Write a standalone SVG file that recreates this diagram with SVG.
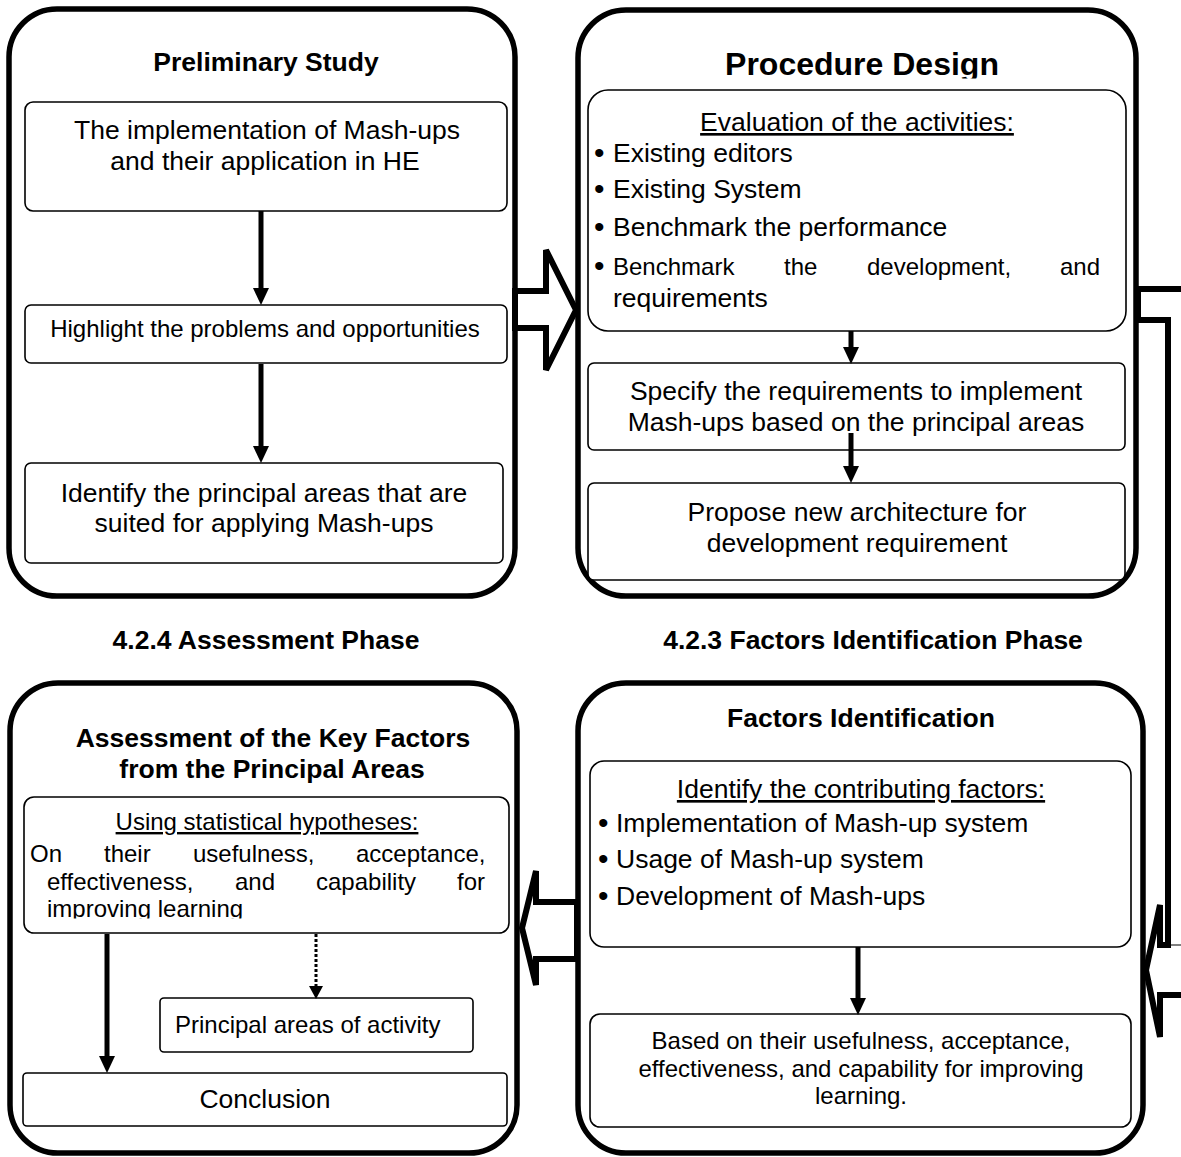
<svg xmlns="http://www.w3.org/2000/svg" width="1181" height="1157" viewBox="0 0 1181 1157">
<style>
.panel{fill:#fff;stroke:#000;stroke-width:5.5}
.box{fill:#fff;stroke:#000;stroke-width:1.6}
text{font-family:"Liberation Sans",Arial,sans-serif;fill:#000}
.f26{font-size:26.5px}
.f24{font-size:24px}
.h{font-size:26.5px;font-weight:bold}
.c{text-anchor:middle}
.u{text-decoration:underline}
.bul{font-size:30px}
.conn{stroke:#000;stroke-width:5;fill:none}
.dot{stroke:#000;stroke-width:3;fill:none;stroke-dasharray:3 2}
.hollow{fill:#fff;stroke:#000;stroke-width:6;stroke-linejoin:miter}
</style>
<defs>
<marker id="ah" markerUnits="userSpaceOnUse" viewBox="0 0 17 16" markerWidth="17" markerHeight="16" refX="0" refY="8" orient="auto"><path d="M0,0 L17,8 L0,16 z" fill="#000"/></marker>
<marker id="ahs" markerUnits="userSpaceOnUse" viewBox="0 0 13 14" markerWidth="13" markerHeight="14" refX="0" refY="7" orient="auto"><path d="M0,0 L13,7 L0,14 z" fill="#000"/></marker>
<clipPath id="clipTitle"><rect x="578" y="0" width="560" height="78.5"/></clipPath>
<clipPath id="clipUsing"><rect x="24" y="797" width="486" height="121.5"/></clipPath>
</defs>

<!-- Top-left panel -->
<g id="panel-preliminary">
<rect class="panel" x="9" y="9" width="506" height="587" rx="48"/>
<text class="h c" x="266" y="71">Preliminary Study</text>
</g>
<g id="node-implementation">
<rect class="box" x="25" y="102" width="482" height="109" rx="8"/>
<text class="f26 c" x="267" y="139">The implementation of Mash-ups</text>
<text class="f26 c" x="265" y="170">and their application in HE</text>
</g>
<g id="node-highlight">
<rect class="box" x="25" y="305" width="482" height="58" rx="6"/>
<text class="f24 c" x="265" y="337">Highlight the problems and opportunities</text>
</g>
<g id="node-identify-areas">
<rect class="box" x="25" y="463" width="478" height="100" rx="6"/>
<text class="f26 c" x="264" y="502">Identify the principal areas that are</text>
<text class="f26 c" x="264" y="532">suited for applying Mash-ups</text>
</g>

<!-- Top-right panel -->
<g id="panel-procedure">
<rect class="panel" x="578" y="10" width="558" height="586" rx="48"/>
<text x="862" y="75" class="c" font-size="32" font-weight="bold" clip-path="url(#clipTitle)">Procedure Design</text>
</g>
<g id="node-evaluation">
<rect class="box" x="588" y="90" width="538" height="241" rx="20"/>
<text class="f26 c u" x="857" y="131">Evaluation of the activities:</text>
<text class="f26" x="594" y="163"><tspan class="bul">•</tspan><tspan x="613" y="162">Existing editors</tspan></text>
<text class="f26" x="594" y="199"><tspan class="bul">•</tspan><tspan x="613" y="198">Existing System</tspan></text>
<text class="f26" x="594" y="237"><tspan class="bul">•</tspan><tspan x="613" y="236">Benchmark the performance</tspan></text>
<text class="f24" x="594" y="276"><tspan class="bul">•</tspan><tspan x="613" y="275">Benchmark</tspan><tspan x="784">the</tspan><tspan x="867">development,</tspan><tspan x="1060">and</tspan></text>
<text class="f26" x="613" y="307">requirements</text>
</g>
<g id="node-specify">
<rect class="box" x="588" y="363" width="537" height="87" rx="6"/>
<text class="f26 c" x="856" y="400">Specify the requirements to implement</text>
<text class="f26 c" x="856" y="431">Mash-ups based on the principal areas</text>
</g>
<g id="node-propose">
<rect class="box" x="588" y="483" width="537" height="97" rx="6"/>
<text class="f26 c" x="857" y="521">Propose new architecture for</text>
<text class="f26 c" x="857" y="552">development requirement</text>
</g>

<!-- Phase labels -->
<g id="label-assessment-phase"><text class="h c" x="266" y="649">4.2.4 Assessment Phase</text></g>
<g id="label-factors-phase"><text class="h c" x="873" y="649">4.2.3 Factors Identification Phase</text></g>

<!-- Bottom-left panel -->
<g id="panel-assessment">
<rect class="panel" x="10" y="683" width="507" height="470" rx="48"/>
<text class="h c" x="273" y="747">Assessment of the Key Factors</text>
<text class="h c" x="272" y="778">from the Principal Areas</text>
</g>
<g id="node-hypotheses">
<rect class="box" x="24" y="797" width="485" height="136" rx="10"/>
<text class="f24 c u" x="267" y="830">Using statistical hypotheses:</text>
<text class="f24" y="862"><tspan x="30">On</tspan><tspan x="104">their</tspan><tspan x="193">usefulness,</tspan><tspan x="356">acceptance,</tspan></text>
<text class="f24" y="890"><tspan x="47">effectiveness,</tspan><tspan x="235">and</tspan><tspan x="316">capability</tspan><tspan x="457">for</tspan></text>
<text class="f24" x="47" y="917" clip-path="url(#clipUsing)">improving learning</text>
</g>
<g id="node-principal-areas">
<rect class="box" x="160" y="998" width="313" height="54" rx="4"/>
<text class="f24" x="175" y="1033">Principal areas of activity</text>
</g>
<g id="node-conclusion">
<rect class="box" x="23" y="1073" width="484" height="53" rx="4"/>
<text class="f26 c" x="265" y="1108">Conclusion</text>
</g>

<!-- Bottom-right panel -->
<g id="panel-factors">
<rect class="panel" x="578" y="683" width="565" height="470" rx="48"/>
<text class="h c" x="861" y="727">Factors Identification</text>
</g>
<g id="node-contributing">
<rect class="box" x="590" y="761" width="541" height="186" rx="14"/>
<text class="f26 c u" x="861" y="798">Identify the contributing factors:</text>
<text class="f26" x="598" y="833"><tspan class="bul">•</tspan><tspan x="616" y="832">Implementation of Mash-up system</tspan></text>
<text class="f26" x="598" y="869"><tspan class="bul">•</tspan><tspan x="616" y="868">Usage of Mash-up system</tspan></text>
<text class="f26" x="598" y="906"><tspan class="bul">•</tspan><tspan x="616" y="905">Development of Mash-ups</tspan></text>
</g>
<g id="node-based">
<rect class="box" x="590" y="1014" width="541" height="113" rx="10"/>
<text class="f24 c" x="861" y="1049">Based on their usefulness, acceptance,</text>
<text class="f24 c" x="861" y="1077">effectiveness, and capability for improving</text>
<text class="f24 c" x="861" y="1104">learning.</text>
</g>

<!-- Connectors -->
<g id="connectors">
<line class="conn" x1="261" y1="211" x2="261" y2="288" marker-end="url(#ah)"/>
<line class="conn" x1="261" y1="364" x2="261" y2="446" marker-end="url(#ah)"/>
<line class="conn" x1="851" y1="331" x2="851" y2="347" marker-end="url(#ah)"/>
<line class="conn" x1="851" y1="433" x2="851" y2="466" marker-end="url(#ah)"/>
<line class="conn" x1="107" y1="934" x2="107" y2="1056" marker-end="url(#ah)"/>
<line class="dot" x1="316" y1="934" x2="316" y2="986" marker-end="url(#ahs)"/>
<line class="conn" x1="858" y1="947" x2="858" y2="998" marker-end="url(#ah)"/>
<polygon class="hollow" points="515,291 546,291 546,250 576,310 546,370 546,328 515,328"/>
<polygon class="hollow" points="577,902 536,902 536,871 522,928 536,985 536,959 577,959"/>
<polygon class="hollow" points="1138,289 1200,289 1200,995 1160,995 1160,1037 1146,970 1160,905 1160,945 1168,945 1168,320 1138,320"/>
<line x1="1168" y1="945" x2="1181" y2="945" stroke="#000" stroke-width="1"/>
</g>
</svg>
